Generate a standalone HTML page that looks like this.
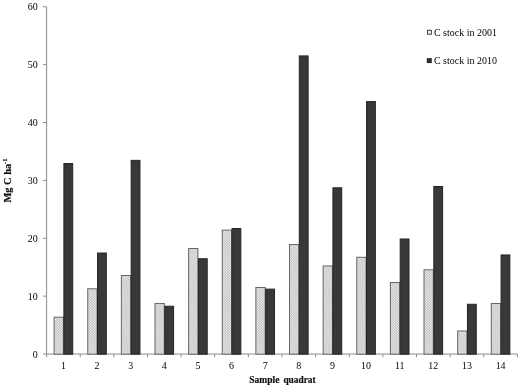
<!DOCTYPE html>
<html><head><meta charset="utf-8"><title>C stock chart</title><style>html,body{margin:0;padding:0;background:#fff}body{width:520px;height:388px;overflow:hidden}</style></head><body>
<svg width="520" height="388" viewBox="0 0 520 388" style="display:block">
<defs><pattern id="h" width="4" height="1.8" patternUnits="userSpaceOnUse" patternTransform="rotate(45)"><rect width="4" height="1.8" fill="#ececec"/><rect width="4" height="0.7" fill="#b0b0b0"/></pattern><filter id="b" x="0" y="0" width="100%" height="100%" filterUnits="userSpaceOnUse"><feGaussianBlur stdDeviation="0.4"/></filter></defs>
<g filter="url(#b)">
<rect width="520" height="388" fill="#fff"/>
<g stroke="#8c8c8c" stroke-width="1" fill="none">
<line x1="46.6" y1="6.8" x2="46.6" y2="354.0"/>
<line x1="43.0" y1="354.0" x2="517.4" y2="354.0"/>
<line x1="43.0" y1="296.13" x2="46.6" y2="296.13"/>
<line x1="43.0" y1="238.27" x2="46.6" y2="238.27"/>
<line x1="43.0" y1="180.40" x2="46.6" y2="180.40"/>
<line x1="43.0" y1="122.53" x2="46.6" y2="122.53"/>
<line x1="43.0" y1="64.67" x2="46.6" y2="64.67"/>
<line x1="43.0" y1="6.80" x2="46.6" y2="6.80"/>
<line x1="46.60" y1="354.0" x2="46.60" y2="357.2"/>
<line x1="80.23" y1="354.0" x2="80.23" y2="357.2"/>
<line x1="113.86" y1="354.0" x2="113.86" y2="357.2"/>
<line x1="147.49" y1="354.0" x2="147.49" y2="357.2"/>
<line x1="181.11" y1="354.0" x2="181.11" y2="357.2"/>
<line x1="214.74" y1="354.0" x2="214.74" y2="357.2"/>
<line x1="248.37" y1="354.0" x2="248.37" y2="357.2"/>
<line x1="282.00" y1="354.0" x2="282.00" y2="357.2"/>
<line x1="315.63" y1="354.0" x2="315.63" y2="357.2"/>
<line x1="349.26" y1="354.0" x2="349.26" y2="357.2"/>
<line x1="382.89" y1="354.0" x2="382.89" y2="357.2"/>
<line x1="416.51" y1="354.0" x2="416.51" y2="357.2"/>
<line x1="450.14" y1="354.0" x2="450.14" y2="357.2"/>
<line x1="483.77" y1="354.0" x2="483.77" y2="357.2"/>
<line x1="517.40" y1="354.0" x2="517.40" y2="357.2"/>
</g>
<rect x="54.10" y="317.18" width="9.30" height="37.02" fill="url(#h)" stroke="#666" stroke-width="1"/>
<rect x="63.90" y="163.54" width="8.80" height="190.66" fill="#383838" stroke="#242424" stroke-width="1"/>
<rect x="87.73" y="288.76" width="9.30" height="65.44" fill="url(#h)" stroke="#666" stroke-width="1"/>
<rect x="97.53" y="253.00" width="8.80" height="101.20" fill="#383838" stroke="#242424" stroke-width="1"/>
<rect x="121.36" y="275.51" width="9.30" height="78.69" fill="url(#h)" stroke="#666" stroke-width="1"/>
<rect x="131.16" y="160.36" width="8.80" height="193.84" fill="#383838" stroke="#242424" stroke-width="1"/>
<rect x="154.99" y="303.52" width="9.30" height="50.68" fill="url(#h)" stroke="#666" stroke-width="1"/>
<rect x="164.79" y="306.24" width="8.80" height="47.96" fill="#383838" stroke="#242424" stroke-width="1"/>
<rect x="188.61" y="248.49" width="9.30" height="105.71" fill="url(#h)" stroke="#666" stroke-width="1"/>
<rect x="198.41" y="258.73" width="8.80" height="95.47" fill="#383838" stroke="#242424" stroke-width="1"/>
<rect x="222.24" y="230.09" width="9.30" height="124.11" fill="url(#h)" stroke="#666" stroke-width="1"/>
<rect x="232.04" y="228.52" width="8.80" height="125.68" fill="#383838" stroke="#242424" stroke-width="1"/>
<rect x="255.87" y="287.49" width="9.30" height="66.71" fill="url(#h)" stroke="#666" stroke-width="1"/>
<rect x="265.67" y="289.11" width="8.80" height="65.09" fill="#383838" stroke="#242424" stroke-width="1"/>
<rect x="289.50" y="244.55" width="9.30" height="109.65" fill="url(#h)" stroke="#666" stroke-width="1"/>
<rect x="299.30" y="55.91" width="8.80" height="298.29" fill="#383838" stroke="#242424" stroke-width="1"/>
<rect x="323.13" y="265.96" width="9.30" height="88.24" fill="url(#h)" stroke="#666" stroke-width="1"/>
<rect x="332.93" y="187.79" width="8.80" height="166.41" fill="#383838" stroke="#242424" stroke-width="1"/>
<rect x="356.76" y="257.28" width="9.30" height="96.92" fill="url(#h)" stroke="#666" stroke-width="1"/>
<rect x="366.56" y="101.62" width="8.80" height="252.58" fill="#383838" stroke="#242424" stroke-width="1"/>
<rect x="390.39" y="282.51" width="9.30" height="71.69" fill="url(#h)" stroke="#666" stroke-width="1"/>
<rect x="400.19" y="239.00" width="8.80" height="115.20" fill="#383838" stroke="#242424" stroke-width="1"/>
<rect x="424.01" y="269.78" width="9.30" height="84.42" fill="url(#h)" stroke="#666" stroke-width="1"/>
<rect x="433.81" y="186.51" width="8.80" height="167.69" fill="#383838" stroke="#242424" stroke-width="1"/>
<rect x="457.64" y="331.01" width="9.30" height="23.19" fill="url(#h)" stroke="#666" stroke-width="1"/>
<rect x="467.44" y="304.27" width="8.80" height="49.93" fill="#383838" stroke="#242424" stroke-width="1"/>
<rect x="491.27" y="303.52" width="9.30" height="50.68" fill="url(#h)" stroke="#666" stroke-width="1"/>
<rect x="501.07" y="254.97" width="8.80" height="99.23" fill="#383838" stroke="#242424" stroke-width="1"/>
<g font-family="'Liberation Serif', serif" font-size="10.6" fill="#000">
<text transform="translate(37.80,357.50) scale(0.94,1)" text-anchor="end">0</text>
<text transform="translate(37.80,299.63) scale(0.94,1)" text-anchor="end">10</text>
<text transform="translate(37.80,241.77) scale(0.94,1)" text-anchor="end">20</text>
<text transform="translate(37.80,183.90) scale(0.94,1)" text-anchor="end">30</text>
<text transform="translate(37.80,126.03) scale(0.94,1)" text-anchor="end">40</text>
<text transform="translate(37.80,68.17) scale(0.94,1)" text-anchor="end">50</text>
<text transform="translate(37.80,10.30) scale(0.94,1)" text-anchor="end">60</text>
<text transform="translate(63.41,369.30) scale(0.94,1)" text-anchor="middle">1</text>
<text transform="translate(97.04,369.30) scale(0.94,1)" text-anchor="middle">2</text>
<text transform="translate(130.67,369.30) scale(0.94,1)" text-anchor="middle">3</text>
<text transform="translate(164.30,369.30) scale(0.94,1)" text-anchor="middle">4</text>
<text transform="translate(197.93,369.30) scale(0.94,1)" text-anchor="middle">5</text>
<text transform="translate(231.56,369.30) scale(0.94,1)" text-anchor="middle">6</text>
<text transform="translate(265.19,369.30) scale(0.94,1)" text-anchor="middle">7</text>
<text transform="translate(298.81,369.30) scale(0.94,1)" text-anchor="middle">8</text>
<text transform="translate(332.44,369.30) scale(0.94,1)" text-anchor="middle">9</text>
<text transform="translate(366.07,369.30) scale(0.94,1)" text-anchor="middle">10</text>
<text transform="translate(399.70,369.30) scale(0.94,1)" text-anchor="middle">11</text>
<text transform="translate(433.33,369.30) scale(0.94,1)" text-anchor="middle">12</text>
<text transform="translate(466.96,369.30) scale(0.94,1)" text-anchor="middle">13</text>
<text transform="translate(500.59,369.30) scale(0.94,1)" text-anchor="middle">14</text>
<text x="433.9" y="35.8" font-size="10.5" textLength="63" lengthAdjust="spacingAndGlyphs">C stock in 2001</text>
<text x="433.9" y="63.8" font-size="10.5" textLength="63" lengthAdjust="spacingAndGlyphs">C stock in 2010</text>
<text y="383" font-size="10" font-weight="bold" fill="#111" stroke="#111" stroke-width="0.2"><tspan x="249.2" textLength="30.2" lengthAdjust="spacingAndGlyphs">Sample</tspan> <tspan x="283.4" textLength="32.2" lengthAdjust="spacingAndGlyphs">quadrat</tspan></text>
<text transform="translate(11.4,180.4) rotate(-90)" text-anchor="middle" font-weight="bold" font-size="10.4" fill="#111" stroke="#111" stroke-width="0.2">Mg C ha<tspan font-size="6.8" dy="-4.2">-1</tspan></text>
</g>
<rect x="427.5" y="30.3" width="3.9" height="3.9" fill="#eee" stroke="#444" stroke-width="1"/>
<rect x="426.8" y="58.1" width="5" height="5" fill="#2e2e2e"/>
</g>
</svg>
</body></html>
